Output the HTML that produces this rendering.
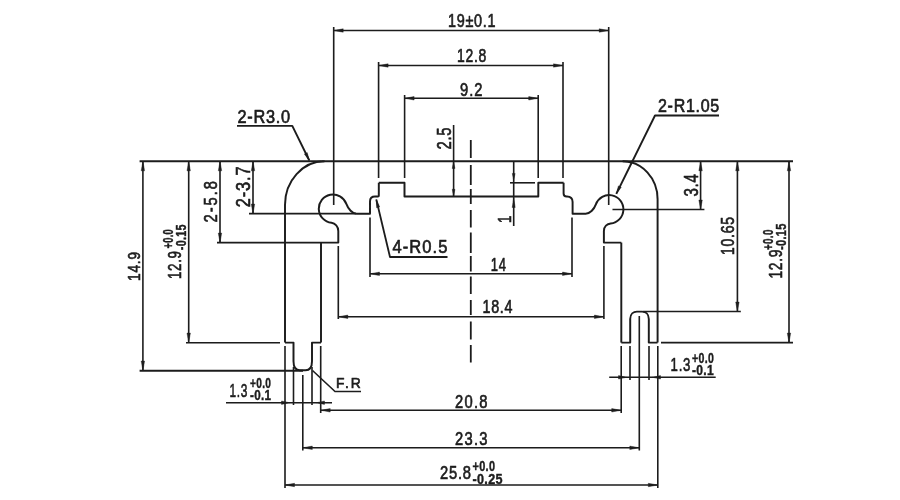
<!DOCTYPE html>
<html><head><meta charset="utf-8"><title>Profile drawing</title>
<style>
html,body{margin:0;padding:0;background:#fff;}
body{width:900px;height:500px;overflow:hidden;}
svg{display:block;will-change:transform;}
text{font-family:"Liberation Sans",sans-serif;fill:#1c1c1c;stroke:#1c1c1c;stroke-width:0.65px;}
text.b{stroke-width:0.4px;}
text.b{font-weight:bold;}
</style></head><body>
<svg width="900" height="500" viewBox="0 0 900 500" stroke="#1c1c1c" stroke-linecap="butt" stroke-linejoin="round">
<rect x="0" y="0" width="900" height="500" fill="#ffffff" stroke="none"/>
<!--WM-->
<defs><filter id="nf" x="0" y="0" width="900" height="500" filterUnits="userSpaceOnUse"><feGaussianBlur stdDeviation="0.4"/></filter></defs>
<g filter="url(#nf)">
<line x1="139.6" y1="161.3" x2="793" y2="161.3" stroke-width="2.1" />
<path d="M285,342.6 L285,204.8 A39.5,43.5 0 0 1 324.5,161.3" stroke-width="1.95" fill="none" />
<path d="M657.6,342.6 L657.6,199.3 A35,38 0 0 0 622.6,161.3" stroke-width="1.95" fill="none" />
<path d="M321,242.6 L338.3,242.6 L338.3,231 C338.3,226.6 335.10,223.20 331.52,222.82 A14.2,14.2 0 1 1 346.34,203.84 C348.22,209.01 352.50,213.8 356.50,213.8 L370,213.8 L370,201.5 Q370,196.5 375.0,196.5 L378.0,196.5 Q378.8,196.5 378.8,195.7 L378.8,182.8" stroke-width="1.95" fill="none" />
<path d="M621.3,242.6 L603.9,242.6 L603.9,231 C603.9,226.6 607.10,223.80 610.68,223.42 A14.2,14.2 0 1 0 595.86,204.44 C593.98,209.61 589.70,213.8 585.70,213.8 L572.6,213.8 L572.6,202.1 Q572.6,196.5 567.0,196.5 L566.6,196.5 Q563.6,196.5 563.6,193.5 L563.6,182.8" stroke-width="1.95" fill="none" />
<path d="M378.8,182.8 L404.5,182.8 L404.5,196.5 L538.3,196.5 L538.3,182.8 L563.6,182.8" stroke-width="1.95" fill="none" />
<line x1="321" y1="242.6" x2="321" y2="342.6" stroke-width="1.95" />
<line x1="621.3" y1="242.6" x2="621.3" y2="342.6" stroke-width="1.95" />
<path d="M285,342.6 L293.5,342.6 L293.5,361.2 C293.5,367.5 296,370.3 300,370.3 L305.5,370.3 C309.5,370.3 312,367.5 312,361.2 L312,342.6 L321,342.6" stroke-width="1.95" fill="none" />
<path d="M621.3,342.6 L630.2,342.6 L630.2,319 C630.2,314 633.5,311.6 637,311.6 L642,311.6 C645.5,311.6 648.8,314 648.8,319 L648.8,342.6 L657.6,342.6" stroke-width="1.95" fill="none" />
<line x1="333.7" y1="30.5" x2="608.7" y2="30.5" stroke-width="1.6" />
<polygon points="333.70,30.50 343.20,28.80 343.20,32.20" fill="#1c1c1c" stroke="#1c1c1c" stroke-width="0.4"/>
<polygon points="608.70,30.50 599.20,32.20 599.20,28.80" fill="#1c1c1c" stroke="#1c1c1c" stroke-width="0.4"/>
<line x1="333.7" y1="27" x2="333.7" y2="205" stroke-width="1.6" />
<line x1="608.7" y1="27" x2="608.7" y2="205" stroke-width="1.6" />
<line x1="378.6" y1="65.5" x2="563" y2="65.5" stroke-width="1.6" />
<polygon points="378.60,65.50 388.10,63.80 388.10,67.20" fill="#1c1c1c" stroke="#1c1c1c" stroke-width="0.4"/>
<polygon points="563.00,65.50 553.50,67.20 553.50,63.80" fill="#1c1c1c" stroke="#1c1c1c" stroke-width="0.4"/>
<line x1="378.6" y1="62" x2="378.6" y2="178" stroke-width="1.6" />
<line x1="563" y1="62" x2="563" y2="178" stroke-width="1.6" />
<line x1="404.6" y1="98.3" x2="538.2" y2="98.3" stroke-width="1.6" />
<polygon points="404.60,98.30 414.10,96.60 414.10,100.00" fill="#1c1c1c" stroke="#1c1c1c" stroke-width="0.4"/>
<polygon points="538.20,98.30 528.70,100.00 528.70,96.60" fill="#1c1c1c" stroke="#1c1c1c" stroke-width="0.4"/>
<line x1="404.6" y1="95" x2="404.6" y2="178" stroke-width="1.6" />
<line x1="538.2" y1="95" x2="538.2" y2="178" stroke-width="1.6" />
<text class="t" transform="translate(448,27) scale(0.801,1)" x="0" y="0" font-size="18" textLength="59.30" lengthAdjust="spacing">19±0.1</text>
<text class="t" transform="translate(457,62) scale(0.776,1)" x="0" y="0" font-size="18" textLength="37.76" lengthAdjust="spacing">12.8</text>
<text class="t" transform="translate(460,95.8) scale(0.82,1)" x="0" y="0" font-size="18" textLength="27.44" lengthAdjust="spacing">9.2</text>
<line x1="370" y1="273.8" x2="572" y2="273.8" stroke-width="1.6" />
<polygon points="370.00,273.80 379.50,272.10 379.50,275.50" fill="#1c1c1c" stroke="#1c1c1c" stroke-width="0.4"/>
<polygon points="572.00,273.80 562.50,275.50 562.50,272.10" fill="#1c1c1c" stroke="#1c1c1c" stroke-width="0.4"/>
<line x1="370" y1="217.5" x2="370" y2="277" stroke-width="1.6" />
<line x1="572" y1="217.5" x2="572" y2="277" stroke-width="1.6" />
<text class="t" transform="translate(490.8,271) scale(0.724,1)" x="0" y="0" font-size="18" textLength="20.99" lengthAdjust="spacing">14</text>
<line x1="338.3" y1="316.8" x2="603.9" y2="316.8" stroke-width="1.6" />
<polygon points="338.30,316.80 347.80,315.10 347.80,318.50" fill="#1c1c1c" stroke="#1c1c1c" stroke-width="0.4"/>
<polygon points="603.90,316.80 594.40,318.50 594.40,315.10" fill="#1c1c1c" stroke="#1c1c1c" stroke-width="0.4"/>
<line x1="338.3" y1="246" x2="338.3" y2="319" stroke-width="1.6" />
<line x1="603.9" y1="246" x2="603.9" y2="319" stroke-width="1.6" />
<text class="t" transform="translate(482.5,313.3) scale(0.796,1)" x="0" y="0" font-size="18" textLength="37.69" lengthAdjust="spacing">18.4</text>
<line x1="320.7" y1="410.3" x2="621.2" y2="410.3" stroke-width="1.6" />
<polygon points="320.70,410.30 330.20,408.60 330.20,412.00" fill="#1c1c1c" stroke="#1c1c1c" stroke-width="0.4"/>
<polygon points="621.20,410.30 611.70,412.00 611.70,408.60" fill="#1c1c1c" stroke="#1c1c1c" stroke-width="0.4"/>
<line x1="320.7" y1="346" x2="320.7" y2="413" stroke-width="1.6" />
<line x1="621.2" y1="346" x2="621.2" y2="413" stroke-width="1.6" />
<text class="t" transform="translate(455,407.5) scale(0.82,1)" x="0" y="0" font-size="18" textLength="39.63" lengthAdjust="spacing">20.8</text>
<line x1="302.8" y1="447.8" x2="639.3" y2="447.8" stroke-width="1.6" />
<polygon points="302.80,447.80 312.30,446.10 312.30,449.50" fill="#1c1c1c" stroke="#1c1c1c" stroke-width="0.4"/>
<polygon points="639.30,447.80 629.80,449.50 629.80,446.10" fill="#1c1c1c" stroke="#1c1c1c" stroke-width="0.4"/>
<line x1="302.8" y1="375" x2="302.8" y2="450.5" stroke-width="1.6" />
<line x1="639.3" y1="316" x2="639.3" y2="450.5" stroke-width="1.6" />
<text class="t" transform="translate(455,444.5) scale(0.82,1)" x="0" y="0" font-size="18" textLength="39.63" lengthAdjust="spacing">23.3</text>
<line x1="285" y1="485" x2="657.8" y2="485" stroke-width="1.6" />
<polygon points="285.00,485.00 294.50,483.30 294.50,486.70" fill="#1c1c1c" stroke="#1c1c1c" stroke-width="0.4"/>
<polygon points="657.80,485.00 648.30,486.70 648.30,483.30" fill="#1c1c1c" stroke="#1c1c1c" stroke-width="0.4"/>
<line x1="285" y1="346" x2="285" y2="488" stroke-width="1.6" />
<line x1="657.8" y1="346" x2="657.8" y2="488" stroke-width="1.6" />
<text class="t" transform="translate(440,479) scale(0.82,1)" x="0" y="0" font-size="18" textLength="37.80" lengthAdjust="spacing">25.8</text>
<text class="b" transform="translate(472.5,471) scale(0.782,1)" x="0" y="0" font-size="14" textLength="28.77" lengthAdjust="spacing">+0.0</text>
<text class="b" transform="translate(472.5,484) scale(0.9,1)" x="0" y="0" font-size="14" textLength="33.33" lengthAdjust="spacing">-0.25</text>
<line x1="293.5" y1="367" x2="293.5" y2="405" stroke-width="1.6" />
<line x1="312" y1="367" x2="312" y2="405" stroke-width="1.6" />
<line x1="630" y1="346" x2="630" y2="380" stroke-width="1.6" />
<line x1="649" y1="346" x2="649" y2="380" stroke-width="1.6" />
<line x1="226" y1="402.7" x2="332" y2="402.7" stroke-width="1.6" />
<polygon points="289.50,402.70 281.50,404.40 281.50,401.00" fill="#1c1c1c" stroke="#1c1c1c" stroke-width="0.4"/>
<polygon points="316.50,402.70 324.50,401.00 324.50,404.40" fill="#1c1c1c" stroke="#1c1c1c" stroke-width="0.4"/>
<line x1="609.2" y1="377.3" x2="715.7" y2="377.3" stroke-width="1.6" />
<polygon points="626.50,377.30 618.50,379.00 618.50,375.60" fill="#1c1c1c" stroke="#1c1c1c" stroke-width="0.4"/>
<polygon points="652.50,377.30 660.50,375.60 660.50,379.00" fill="#1c1c1c" stroke="#1c1c1c" stroke-width="0.4"/>
<text class="t" transform="translate(229.4,396.6) scale(0.628,1)" x="0" y="0" font-size="19" textLength="28.66" lengthAdjust="spacing">1.3</text>
<text class="b" transform="translate(250,388.4) scale(0.727,1)" x="0" y="0" font-size="14" textLength="28.89" lengthAdjust="spacing">+0.0</text>
<text class="b" transform="translate(250,399.6) scale(0.833,1)" x="0" y="0" font-size="14" textLength="25.21" lengthAdjust="spacing">-0.1</text>
<text class="t" transform="translate(670.6,371) scale(0.697,1)" x="0" y="0" font-size="19" textLength="28.41" lengthAdjust="spacing">1.3</text>
<text class="b" transform="translate(692,362.5) scale(0.756,1)" x="0" y="0" font-size="14" textLength="28.84" lengthAdjust="spacing">+0.0</text>
<text class="b" transform="translate(692,375) scale(0.866,1)" x="0" y="0" font-size="14" textLength="25.17" lengthAdjust="spacing">-0.1</text>
<text class="t" transform="translate(336,387.5) scale(0.92,1)" x="0" y="0" font-size="15" textLength="26.96" lengthAdjust="spacing">F.R</text>
<path d="M361,391.5 L335,391.5 L312.5,370.5" stroke-width="1.6" fill="none" />
<line x1="142.9" y1="161.3" x2="142.9" y2="370.6" stroke-width="1.6" />
<polygon points="142.90,161.30 144.60,170.80 141.20,170.80" fill="#1c1c1c" stroke="#1c1c1c" stroke-width="0.4"/>
<polygon points="142.90,370.60 141.20,361.10 144.60,361.10" fill="#1c1c1c" stroke="#1c1c1c" stroke-width="0.4"/>
<line x1="139.6" y1="370.8" x2="303" y2="370.8" stroke-width="2.1" />
<line x1="188.7" y1="161.3" x2="188.7" y2="342.6" stroke-width="1.6" />
<polygon points="188.70,161.30 190.40,170.80 187.00,170.80" fill="#1c1c1c" stroke="#1c1c1c" stroke-width="0.4"/>
<polygon points="188.70,342.60 187.00,333.10 190.40,333.10" fill="#1c1c1c" stroke="#1c1c1c" stroke-width="0.4"/>
<line x1="186" y1="342.7" x2="280" y2="342.7" stroke-width="1.6" />
<line x1="220" y1="161.3" x2="220" y2="242.6" stroke-width="1.6" />
<polygon points="220.00,161.30 221.70,170.80 218.30,170.80" fill="#1c1c1c" stroke="#1c1c1c" stroke-width="0.4"/>
<polygon points="220.00,242.60 218.30,233.10 221.70,233.10" fill="#1c1c1c" stroke="#1c1c1c" stroke-width="0.4"/>
<line x1="217" y1="242.6" x2="321" y2="242.6" stroke-width="1.6" />
<line x1="253" y1="161.3" x2="253" y2="213.6" stroke-width="1.6" />
<polygon points="253.00,161.30 254.70,170.80 251.30,170.80" fill="#1c1c1c" stroke="#1c1c1c" stroke-width="0.4"/>
<polygon points="253.00,213.60 251.30,204.10 254.70,204.10" fill="#1c1c1c" stroke="#1c1c1c" stroke-width="0.4"/>
<line x1="249" y1="213.6" x2="356" y2="213.6" stroke-width="1.6" />
<text class="t" transform="translate(139.8,281) rotate(-90) scale(0.82,1)" x="0" y="0" font-size="16.6" textLength="35.37" lengthAdjust="spacing">14.9</text>
<text class="t" transform="translate(181,279) rotate(-90) scale(0.739,1)" x="0" y="0" font-size="18" textLength="37.89" lengthAdjust="spacing">12.9</text>
<text class="b" transform="translate(172.6,248.5) rotate(-90) scale(0.666,1)" x="0" y="0" font-size="14" textLength="28.98" lengthAdjust="spacing">+0.0</text>
<text class="b" transform="translate(186.3,250.2) rotate(-90) scale(0.771,1)" x="0" y="0" font-size="14" textLength="33.46" lengthAdjust="spacing">-0.15</text>
<text class="t" transform="translate(216.8,222.5) rotate(-90) scale(0.82,1)" x="0" y="0" font-size="18" textLength="50.61" lengthAdjust="spacing">2-5.8</text>
<text class="t" transform="translate(249.7,207.3) rotate(-90) scale(0.82,1)" x="0" y="0" font-size="20" textLength="50.00" lengthAdjust="spacing">2-3.7</text>
<line x1="700.6" y1="161.3" x2="700.6" y2="209.5" stroke-width="1.6" />
<polygon points="700.60,161.30 702.30,170.80 698.90,170.80" fill="#1c1c1c" stroke="#1c1c1c" stroke-width="0.4"/>
<polygon points="700.60,209.50 698.90,200.00 702.30,200.00" fill="#1c1c1c" stroke="#1c1c1c" stroke-width="0.4"/>
<line x1="612.5" y1="209.5" x2="704.4" y2="209.5" stroke-width="1.6" />
<line x1="737.4" y1="161.3" x2="737.4" y2="311.5" stroke-width="1.6" />
<polygon points="737.40,161.30 739.10,170.80 735.70,170.80" fill="#1c1c1c" stroke="#1c1c1c" stroke-width="0.4"/>
<polygon points="737.40,311.50 735.70,302.00 739.10,302.00" fill="#1c1c1c" stroke="#1c1c1c" stroke-width="0.4"/>
<line x1="643" y1="311.5" x2="740.8" y2="311.5" stroke-width="1.6" />
<line x1="789" y1="161.3" x2="789" y2="342.6" stroke-width="1.6" />
<polygon points="789.00,161.30 790.70,170.80 787.30,170.80" fill="#1c1c1c" stroke="#1c1c1c" stroke-width="0.4"/>
<polygon points="789.00,342.60 787.30,333.10 790.70,333.10" fill="#1c1c1c" stroke="#1c1c1c" stroke-width="0.4"/>
<line x1="661" y1="342.6" x2="793" y2="342.6" stroke-width="1.6" />
<text class="t" transform="translate(697.7,196.5) rotate(-90) scale(0.741,1)" x="0" y="0" font-size="20.3" textLength="30.09" lengthAdjust="spacing">3.4</text>
<text class="t" transform="translate(733.6,255) rotate(-90) scale(0.781,1)" x="0" y="0" font-size="18" textLength="48.66" lengthAdjust="spacing">10.65</text>
<text class="t" transform="translate(782,278.5) rotate(-90) scale(0.768,1)" x="0" y="0" font-size="18" textLength="37.76" lengthAdjust="spacing">12.9</text>
<text class="b" transform="translate(772.5,250) rotate(-90) scale(0.706,1)" x="0" y="0" font-size="14" textLength="28.90" lengthAdjust="spacing">+0.0</text>
<text class="b" transform="translate(786,250) rotate(-90) scale(0.79,1)" x="0" y="0" font-size="14" textLength="33.42" lengthAdjust="spacing">-0.15</text>
<line x1="453.6" y1="125" x2="453.6" y2="196.5" stroke-width="1.6" />
<polygon points="453.60,161.30 454.95,168.50 452.25,168.50" fill="#1c1c1c" stroke="#1c1c1c" stroke-width="0.4"/>
<polygon points="453.60,196.50 452.25,189.30 454.95,189.30" fill="#1c1c1c" stroke="#1c1c1c" stroke-width="0.4"/>
<text class="t" transform="translate(451,149.5) rotate(-90) scale(0.768,1)" x="0" y="0" font-size="19.3" textLength="28.65" lengthAdjust="spacing">2.5</text>
<line x1="513.7" y1="161.3" x2="513.7" y2="226" stroke-width="1.6" />
<polygon points="513.70,180.60 512.30,173.40 515.10,173.40" fill="#1c1c1c" stroke="#1c1c1c" stroke-width="0.4"/>
<polygon points="513.70,198.00 515.20,207.50 512.20,207.50" fill="#1c1c1c" stroke="#1c1c1c" stroke-width="0.4"/>
<line x1="510" y1="182.8" x2="535" y2="182.8" stroke-width="1.6" />
<text class="t" transform="translate(511,223) rotate(-90) scale(0.749,1)" x="0" y="0" font-size="18" textLength="10.01" lengthAdjust="spacing">1</text>
<line x1="470.8" y1="140" x2="470.8" y2="158" stroke-width="1.8" />
<line x1="470.8" y1="165" x2="470.8" y2="185" stroke-width="1.8" />
<line x1="470.8" y1="189" x2="470.8" y2="204" stroke-width="1.8" />
<line x1="470.8" y1="210" x2="470.8" y2="227.5" stroke-width="1.8" />
<line x1="470.8" y1="232.5" x2="470.8" y2="253" stroke-width="1.8" />
<line x1="470.8" y1="256" x2="470.8" y2="271.5" stroke-width="1.8" />
<line x1="470.8" y1="276.5" x2="470.8" y2="294" stroke-width="1.8" />
<line x1="470.8" y1="300" x2="470.8" y2="315" stroke-width="1.8" />
<line x1="470.8" y1="321.5" x2="470.8" y2="339.5" stroke-width="1.8" />
<line x1="470.8" y1="345" x2="470.8" y2="362.5" stroke-width="1.8" />
<text class="t" transform="translate(237.5,122.5) scale(0.907,1)" x="0" y="0" font-size="18" textLength="57.88" lengthAdjust="spacing">2-R3.0</text>
<path d="M237,125.9 L292.3,125.9 L309.3,160.5" stroke-width="1.9" fill="none" />
<polygon points="309.30,160.50 304.34,154.03 307.21,152.61" fill="#1c1c1c" stroke="#1c1c1c" stroke-width="0.4"/>
<text class="t" transform="translate(658,112) scale(0.892,1)" x="0" y="0" font-size="18" textLength="68.72" lengthAdjust="spacing">2-R1.05</text>
<path d="M719,115.5 L655,115.5 L616.3,193.8" stroke-width="1.9" fill="none" />
<polygon points="616.30,193.80 618.41,185.92 621.28,187.34" fill="#1c1c1c" stroke="#1c1c1c" stroke-width="0.4"/>
<text class="t" transform="translate(392.5,253) scale(0.92,1)" x="0" y="0" font-size="18" textLength="59.78" lengthAdjust="spacing">4-R0.5</text>
<path d="M447.5,257 L390,257 L376.3,199.5" stroke-width="1.8" fill="none" />
<polygon points="376.30,199.50 379.71,206.91 376.60,207.65" fill="#1c1c1c" stroke="#1c1c1c" stroke-width="0.4"/>
</g>
</svg>
</body></html>
